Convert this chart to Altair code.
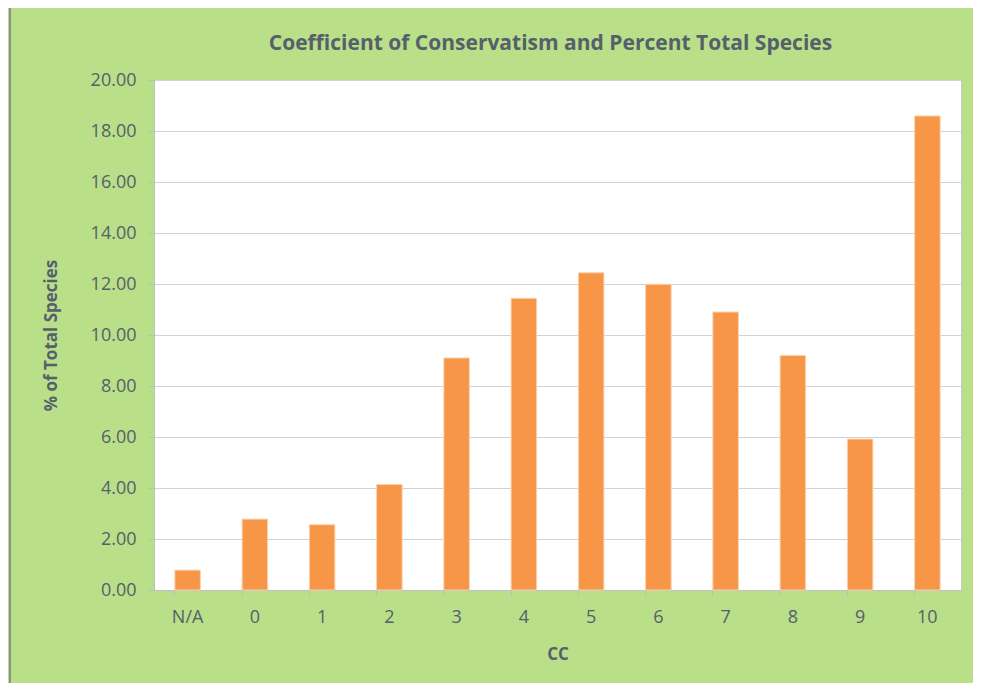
import altair as alt
import pandas as pd

categories = ["N/A", "0", "1", "2", "3", "4", "5", "6", "7", "8", "9", "10"]
percent = [0.78, 2.78, 2.56, 4.14, 9.10, 11.44, 12.44, 11.99, 10.90, 9.20, 5.92, 18.59]
title_text = ["Coefficient of Conservatism and Percent Total Species"]

df = pd.DataFrame({"CC": categories, "pct": percent})
tdf = pd.DataFrame({"t": title_text})

TEXT = "#56606b"
FONT = "Open Sans"
W, H = 807, 510
PL, PT = 146, 72

bars = alt.Chart(df).mark_bar(color="#f79646", stroke="#fbd3b3", strokeWidth=1).encode(
    x=alt.X("CC:N", sort=categories,
            scale=alt.Scale(paddingInner=0.62, paddingOuter=0.31),
            axis=alt.Axis(title="CC", labelAngle=0, bandPosition=0, tickSize=6,
                          labelPadding=12, titlePadding=20)),
    y=alt.Y("pct:Q", scale=alt.Scale(domain=[0, 20]),
            axis=alt.Axis(title="% of Total Species", values=list(range(0, 21, 2)),
                          format=".2f", tickSize=6, labelPadding=12, titlePadding=30)),
)

border = alt.Chart(df).mark_rect(fill=None, stroke="#8f8f8f", strokeWidth=1.5, clip=False).encode(
    x=alt.value(-PL + 2), x2=alt.value(W + 300), y=alt.value(-PT - 3), y2=alt.value(H + 300)
)

title = alt.Chart(tdf).mark_text(font=FONT, fontSize=21, fontWeight="bold", color=TEXT,
                                 align="center", baseline="middle", clip=False).encode(
    text="t:N", x=alt.value(W / 2 - 7), y=alt.value(-36)
)

chart = alt.layer(border, bars, title).properties(
    width=W, height=H,
    background="#b9df89",
    autosize=alt.AutoSizeParams(type="none"),
    padding={"left": PL, "top": PT, "right": 12, "bottom": 93},
).configure_view(
    fill="white", stroke="#c8c8c8", strokeWidth=1
).configure_axis(
    labelFont=FONT, titleFont=FONT, labelFontSize=18, titleFontSize=17,
    labelColor=TEXT, titleColor=TEXT, titleFontWeight="bold",
    domainColor="#bfbfbf", tickColor="#bfbfbf", gridColor="#cdd3da", gridWidth=1.2,
).configure_axisX(grid=False)

chart.save("out.html", embed_options={"renderer": "svg", "actions": False})
